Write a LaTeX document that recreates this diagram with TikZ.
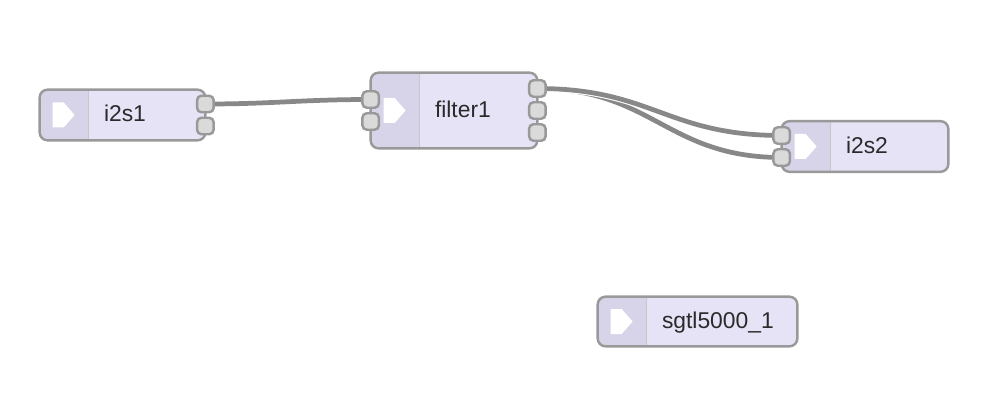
\documentclass[tikz,border=0pt]{standalone}
\usepackage{fontspec}
\setmainfont{Liberation Sans}
\usetikzlibrary{calc,backgrounds}
\definecolor{boxfill}{HTML}{E6E3F6}
\definecolor{iconfill}{HTML}{D7D4E9}
\definecolor{edgegray}{HTML}{999999}
\definecolor{portfill}{HTML}{DADADA}
\definecolor{wiregray}{HTML}{888888}
\definecolor{txtcol}{HTML}{2A2A2A}
\tikzset{
  nodebox/.style={rectangle, rounded corners=4.5pt, fill=boxfill, inner sep=0pt},
  port/.style={rectangle, rounded corners=2.5pt, fill=portfill, draw=edgegray, line width=1.4pt,
    minimum width=0.33cm, minimum height=0.33cm, inner sep=0pt},
  wireline/.style={draw=wiregray, line width=2.7pt, preaction={draw=white, line width=3.9pt}},
  lbl/.style={anchor=base west, inner sep=0pt, text=txtcol, font=\fontsize{13}{15}\selectfont},
  boxborder/.style={draw=edgegray, line width=1.4pt, rounded corners=4.5pt},
  iconarea/.style={fill=iconfill},
  arrowicon/.style={fill=white},
  divider/.style={draw=edgegray!55, line width=0.6pt}
}
\newcommand\flowbox[6]{%
  \node[nodebox, minimum width=#4*0.02cm, minimum height=#5*0.02cm] (#1) at (#2,#3) {};
  \begin{scope}
    \clip[rounded corners=4.5pt] (#1.south west) rectangle (#1.north east);
    \fill[iconarea] (#1.south west) rectangle ($(#1.north west)+(49,0)$);
  \end{scope}
  \draw[divider] ($(#1.south west)+(49,0)$) -- ($(#1.north west)+(49,0)$);
  \fill[arrowicon] ($(#1.west)+(13,-12.5)$) -- ++(11,0) -- ++(11,12.5) -- ++(-11,12.5) -- ++(-11,0) -- cycle;
  \draw[boxborder] (#1.south west) rectangle (#1.north east);
  \node[lbl] (#1-label) at ($(#1.west)+(64,7)$) {#6};
}
\begin{document}
\begin{tikzpicture}[x=0.02cm, y=-0.02cm]
\useasboundingbox (0,0) rectangle (1000,415);

\flowbox{i2s1}{122.5}{115}{165}{50}{i2s1}
\flowbox{filter1}{454}{110.5}{166}{75}{filter1}
\flowbox{i2s2}{865}{146.5}{166}{50}{i2s2}
\flowbox{sgtl}{697.5}{321.5}{199}{49}{sgtl5000\_1}

\node[port] (i2s1-o1) at ($(i2s1.east)+(0,-11)$) {};
\node[port] (i2s1-o2) at ($(i2s1.east)+(0,11)$) {};
\node[port] (filter1-i1) at ($(filter1.west)+(0,-11)$) {};
\node[port] (filter1-i2) at ($(filter1.west)+(0,11)$) {};
\node[port] (filter1-o1) at ($(filter1.east)+(0,-22)$) {};
\node[port] (filter1-o2) at (filter1.east) {};
\node[port] (filter1-o3) at ($(filter1.east)+(0,22)$) {};
\node[port] (i2s2-i1) at ($(i2s2.west)+(0,-11)$) {};
\node[port] (i2s2-i2) at ($(i2s2.west)+(0,11)$) {};

\begin{pgfonlayer}{background}
\draw[wireline] (i2s1-o1.center) .. controls +(70,0) and +(-70,0) .. (filter1-i1.center);
\draw[wireline] (filter1-o1.center) .. controls +(115,0) and +(-115,0) .. (i2s2-i2.center);
\draw[wireline] (filter1-o1.center) .. controls +(115,0) and +(-115,0) .. (i2s2-i1.center);
\end{pgfonlayer}
\end{tikzpicture}
\end{document}
